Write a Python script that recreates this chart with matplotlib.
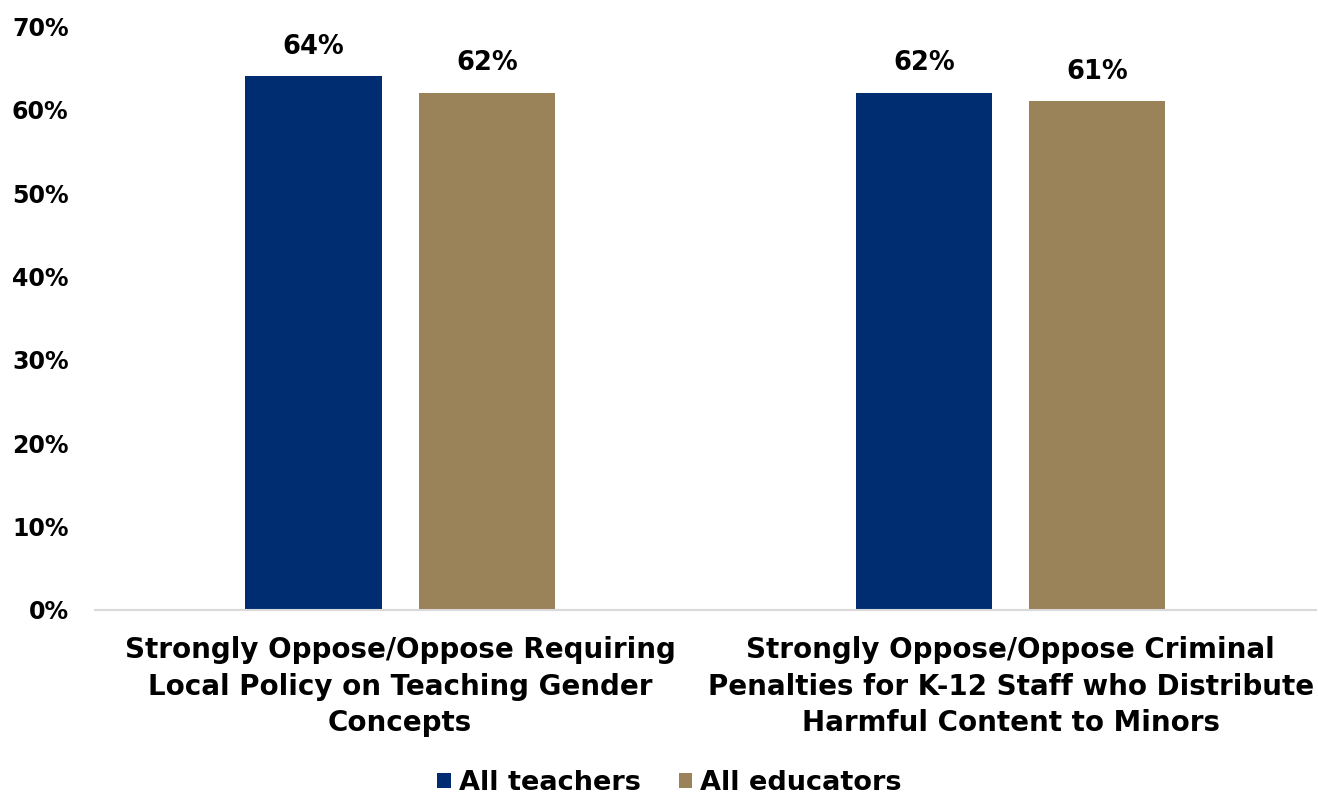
import numpy as np
import matplotlib
matplotlib.use("Agg")
import matplotlib.pyplot as plt

categories = ["Strongly Oppose/Oppose Requiring\nLocal Policy on Teaching Gender\nConcepts",
              "Strongly Oppose/Oppose Criminal\nPenalties for K-12 Staff who Distribute\nHarmful Content to Minors"]
teachers = [64, 62]
educators = [62, 61]
series_names = ["All teachers", "All educators"]
yticks = [0, 10, 20, 30, 40, 50, 60, 70]

navy = "#002D72"
tan = "#9A8259"

plt.rcParams['font.family'] = ['DejaVu Sans']
plt.rcParams['font.weight'] = 'bold'

fig = plt.figure(figsize=(13.18, 7.96), dpi=100)
ax = fig.add_axes([0.072, 0.2337, 0.9264, 0.7333])

x = np.arange(len(categories))
w = 0.223
off = 0.142
b1 = ax.bar(x - off, teachers, w, color=navy, label=series_names[0])
b2 = ax.bar(x + off, educators, w, color=tan, label=series_names[1])

# value labels over the bars
for bars, vals in ((b1, teachers), (b2, educators)):
    for b, v in zip(bars, vals):
        ax.annotate("{}%".format(v), (b.get_x() + b.get_width() / 2, v),
                    xytext=(0, 12), textcoords="offset points",
                    ha="center", va="bottom", fontsize=18.5, fontweight="bold")

ax.set_xlim(-0.5, 1.5)
ax.set_ylim(0, 70)
ax.set_yticks(yticks)
ax.set_yticklabels(["{}%".format(t) for t in yticks], fontsize=17, fontweight="bold")
ax.set_xticks(x)
ax.set_xticklabels(categories, fontsize=20, fontweight="bold", linespacing=1.38)
ax.tick_params(axis="both", length=0)
ax.tick_params(axis="y", pad=19)
ax.tick_params(axis="x", pad=19)

for s in ["top", "right", "left"]:
    ax.spines[s].set_visible(False)
ax.spines["bottom"].set_color("#d9d9d9")
ax.spines["bottom"].set_linewidth(1.5)

fig.legend(loc="center", bbox_to_anchor=(0.508, 0.016), ncol=2, frameon=False,
           prop={"size": 19.5, "weight": "bold"}, handlelength=0.5, handleheight=0.5,
           handletextpad=0.3, columnspacing=1.4)

fig.savefig("out.png", dpi=100)
